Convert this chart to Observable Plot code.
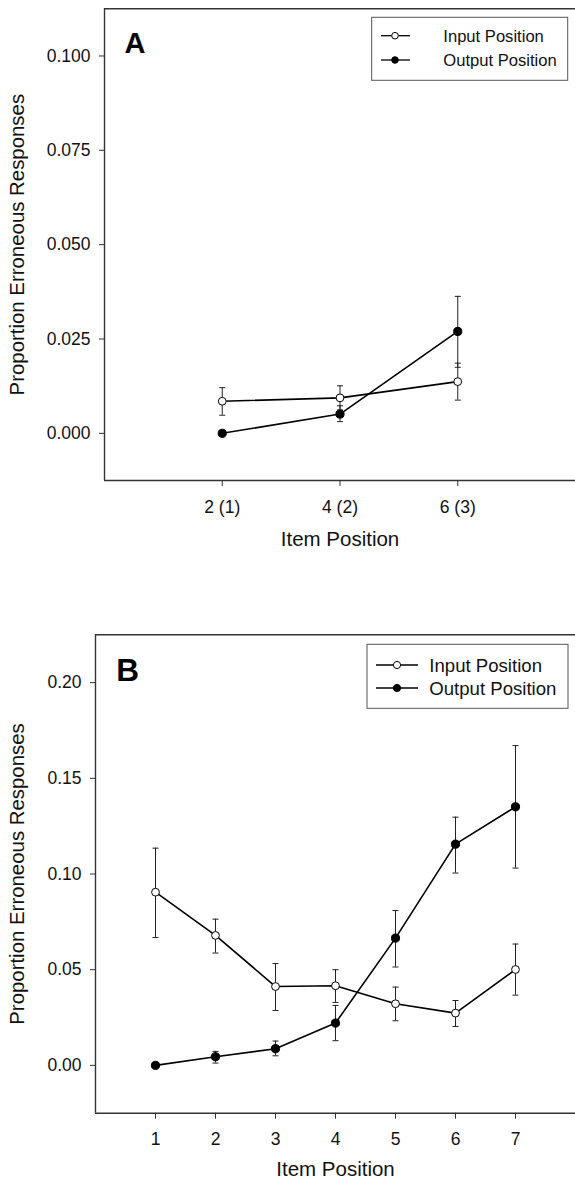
<!DOCTYPE html>
<html><head><meta charset="utf-8">
<script src="https://cdn.jsdelivr.net/npm/d3@7"></script>
<script src="https://cdn.jsdelivr.net/npm/@observablehq/plot@0.6"></script>
<style>
body{margin:0;background:#fff;}
#chart{width:575px;}
#chart svg{display:block;}
</style></head><body><div id="chart"></div>
<script>
// ---------- data ----------
const seriesNames = ["Input Position", "Output Position"];

// Panel A
const positionsA = [2, 4, 6];
const tickLabelsA = ["2 (1)", "4 (2)", "6 (3)"];
const inputA    = [0.0085, 0.0094, 0.0137];
const inputALo  = [0.0048, 0.0062, 0.0088];
const inputAHi  = [0.0121, 0.0126, 0.0186];
const outputA   = [0.0000, 0.0051, 0.0270];
const outputALo = [null,   0.0031, 0.0175];
const outputAHi = [null,   0.0073, 0.0363];
const yTicksA = [0.000, 0.025, 0.050, 0.075, 0.100];

// Panel B
const positionsB = [1, 2, 3, 4, 5, 6, 7];
const tickLabelsB = ["1", "2", "3", "4", "5", "6", "7"];
const inputB    = [0.0905, 0.0679, 0.0412, 0.0416, 0.0322, 0.0273, 0.0501];
const inputBLo  = [0.0668, 0.0587, 0.0287, 0.0329, 0.0233, 0.0203, 0.0367];
const inputBHi  = [0.1135, 0.0764, 0.0532, 0.0500, 0.0409, 0.0339, 0.0634];
const outputB   = [0.0000, 0.0045, 0.0087, 0.0221, 0.0665, 0.1156, 0.1351];
const outputBLo = [null,   0.0012, 0.0050, 0.0129, 0.0514, 0.1005, 0.1031];
const outputBHi = [null,   0.0073, 0.0127, 0.0313, 0.0809, 0.1297, 0.1671];
const yTicksB = [0.00, 0.05, 0.10, 0.15, 0.20];

// ---------- helpers ----------
function buildRows(pos, inp, inpLo, inpHi, out, outLo, outHi) {
  const rows = [];
  pos.forEach((p, i) => rows.push({pos: p, series: seriesNames[0], value: inp[i], lo: inpLo[i], hi: inpHi[i]}));
  pos.forEach((p, i) => rows.push({pos: p, series: seriesNames[1], value: out[i], lo: outLo[i], hi: outHi[i]}));
  return rows;
}
const capSymbol = {draw(ctx) { ctx.moveTo(-3, 0); ctx.lineTo(3, 0); }};
const FONT = "'Liberation Sans', Arial, Helvetica, sans-serif";

function panel(cfg) {
  const rows = cfg.rows;
  const err = rows.filter(d => d.lo != null);
  const plot = Plot.plot({
    width: 575, height: cfg.height,
    marginTop: cfg.marginTop, marginBottom: cfg.marginBottom,
    marginLeft: cfg.marginLeft, marginRight: 0,
    style: {fontFamily: FONT, fontSize: "17.5px", color: "#111", background: "#fff", overflow: "visible"},
    x: {domain: [0, 8]},
    y: {domain: cfg.yDomain},
    marks: [
      Plot.ruleX([0], {stroke: "#333", strokeWidth: 1.4}),
      Plot.ruleY(cfg.yDomain, {stroke: "#333", strokeWidth: 1.4}),
      Plot.axisY({ticks: cfg.yTicks, tickFormat: cfg.yFormat, tickSize: 5, tickPadding: 9, fontSize: 17.5, label: null, stroke: "#333"}),
      Plot.axisX({ticks: cfg.positions, tickFormat: d => cfg.tickLabels[cfg.positions.indexOf(d)], tickSize: 6, tickPadding: cfg.xPad, fontSize: 17.5, label: null, stroke: "#333"}),
      Plot.ruleX(err, {x: "pos", y1: "lo", y2: "hi", stroke: "#222", strokeWidth: 1}),
      Plot.dot(err, {x: "pos", y: "lo", symbol: capSymbol, stroke: "#222", strokeWidth: 1, fill: "none"}),
      Plot.dot(err, {x: "pos", y: "hi", symbol: capSymbol, stroke: "#222", strokeWidth: 1, fill: "none"}),
      Plot.line(rows, {x: "pos", y: "value", z: "series", stroke: "#000", strokeWidth: 1.6}),
      Plot.dot(rows.filter(d => d.series === seriesNames[0]), {x: "pos", y: "value", r: 3.9, fill: "#fff", stroke: "#000", strokeWidth: 1}),
      Plot.dot(rows.filter(d => d.series === seriesNames[1]), {x: "pos", y: "value", r: 4.1, fill: "#000", stroke: "#000", strokeWidth: 1}),
      Plot.text([cfg.letter], {text: d => d, frameAnchor: "top-left", dx: cfg.letterDx, dy: cfg.letterDy, textAnchor: "start", lineAnchor: "top", fontSize: cfg.letterSize, fontWeight: "bold", fill: "#000"}),
      Plot.text(["Proportion Erroneous Responses"], {text: d => d, frameAnchor: "left", dx: cfg.yLabelDx, rotate: -90, textAnchor: "middle", lineAnchor: "middle", fontSize: 20.4, fill: "#111"}),
      Plot.text(["Item Position"], {text: d => d, frameAnchor: "bottom", dy: cfg.xLabelDy, textAnchor: "middle", lineAnchor: "middle", fontSize: 20.5, fill: "#111"})
    ]
  });
  // legend box
  const L = cfg.legend;
  const g = d3.select(plot).append("g").attr("text-anchor", "start");
  g.append("rect").attr("x", L.x0).attr("y", L.y0).attr("width", L.x1 - L.x0).attr("height", L.y1 - L.y0)
    .attr("fill", "#fff").attr("stroke", "#555").attr("stroke-width", 1);
  seriesNames.forEach((name, i) => {
    const cy = L.rows[i];
    g.append("line").attr("x1", L.lx0).attr("x2", L.lx1).attr("y1", cy).attr("y2", cy).attr("stroke", "#000").attr("stroke-width", 1.3);
    g.append("circle").attr("cx", L.mx).attr("cy", cy).attr("r", L.r)
      .attr("fill", i === 0 ? "#fff" : "#000").attr("stroke", "#000").attr("stroke-width", 1);
    g.append("text").attr("x", L.tx).attr("y", cy).attr("dy", "0.35em")
      .style("font-size", L.fs + "px").style("text-anchor", "start")
      .attr("font-family", FONT).attr("fill", "#111").text(name);
  });
  return plot;
}

const chart = document.getElementById("chart");

chart.appendChild(panel({
  rows: buildRows(positionsA, inputA, inputALo, inputAHi, outputA, outputALo, outputAHi),
  positions: positionsA, tickLabels: tickLabelsA,
  height: 580, marginTop: 8.3, marginBottom: 100, marginLeft: 104,
  yDomain: [-0.0125, 0.1125], yTicks: yTicksA, yFormat: d3.format(".3f"),
  xPad: 14, letter: "A", letterSize: 29, letterDx: 20, letterDy: 23.4,
  yLabelDx: -86.7, xLabelDy: 59.3,
  legend: {x0: 371.7, x1: 567.7, y0: 17.3, y1: 80.3, rows: [35.7, 60], lx0: 381, lx1: 410, mx: 395, r: 3.3, tx: 443.3, fs: 16.6}
}));

chart.appendChild(panel({
  rows: buildRows(positionsB, inputB, inputBLo, inputBHi, outputB, outputBLo, outputBHi),
  positions: positionsB, tickLabels: tickLabelsB,
  height: 601, marginTop: 54.3, marginBottom: 68.3, marginLeft: 95,
  yDomain: [-0.025, 0.225], yTicks: yTicksB, yFormat: d3.format(".2f"),
  xPad: 13, letter: "B", letterSize: 31.5, letterDx: 20.7, letterDy: 24,
  yLabelDx: -78, xLabelDy: 56,
  legend: {x0: 367, x1: 568, y0: 64.3, y1: 128.3, rows: [85, 108], lx0: 376, lx1: 418, mx: 397, r: 3.6, tx: 429.3, fs: 18.6}
}));
</script>
</body></html>
